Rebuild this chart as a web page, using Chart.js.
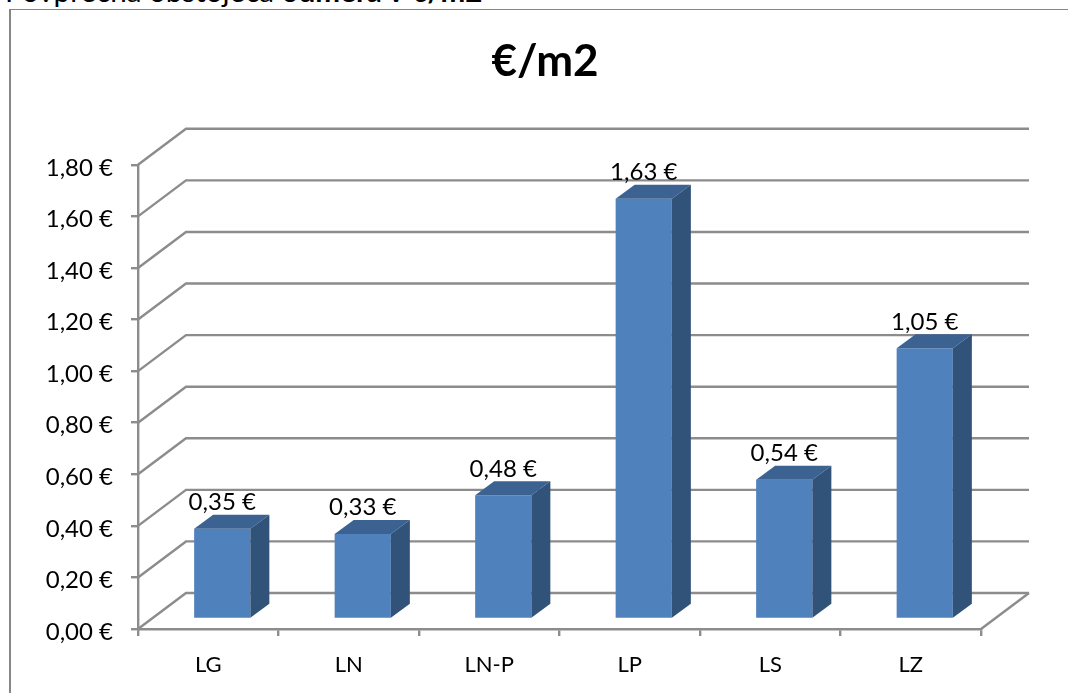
<!DOCTYPE html>
<html>
<head>
<meta charset="utf-8">
<script src="https://cdn.jsdelivr.net/npm/chart.js@4"></script>
<style>
html, body { margin: 0; padding: 0; background: #fff; overflow: hidden; }
#heading { position: absolute; left: 5px; top: -24px; font: 29.6px/30px Lato, sans-serif; color: #000; white-space: nowrap; }
#frame { position: absolute; left: 9px; top: 9px; width: 1100px; height: 720px; border-left: 2px solid #868686; border-top: 1px solid #868686; }
#wrap { position: absolute; left: 0; top: 0; width: 1068px; height: 693px; }
</style>
</head>
<body>
<div id="heading">Povprečna obstoječa <b>odmera v €/m2</b></div>
<div id="frame"></div>
<div id="wrap"><canvas id="priceChart"></canvas></div>
<script>
const categories = ['LG', 'LN', 'LN-P', 'LP', 'LS', 'LZ'];
const priceValues = [0.35, 0.33, 0.48, 1.63, 0.54, 1.05];

const GRID = '#8c8c8c';
const WALL_X = 48, WALL_Y = 36;    // depth of the back wall
const SHIFT_X = 14, SHIFT_Y = 10;  // bars stand a bit behind the front edge
const SIDE_X = 19, SIDE_Y = 14;    // depth of one bar

function euro(v) {
    return v.toFixed(2).replace('.', ',') + ' €';
}

// back wall and floor, drawn under the bars
const wallPlugin = {
    id: 'wall',
    afterLayout(chart) {
        // title is centred over the whole frame, not over the axis area
        chart.titleBlock.left = 109;
    },
    beforeDatasetsDraw(chart) {
        const { ctx, chartArea, scales } = chart;
        ctx.save();
        ctx.strokeStyle = GRID;
        ctx.lineWidth = 2.4;
        scales.y.ticks.forEach(function(t) {
            const y = scales.y.getPixelForValue(t.value);
            ctx.beginPath();
            ctx.moveTo(chartArea.left, y);
            ctx.lineTo(chartArea.left + WALL_X, y - WALL_Y);
            ctx.lineTo(chartArea.right + WALL_X, y - WALL_Y);
            ctx.stroke();
        });
        ctx.beginPath();
        ctx.moveTo(chartArea.right, chartArea.bottom);
        ctx.lineTo(chartArea.right + WALL_X, chartArea.bottom - WALL_Y);
        ctx.stroke();
        ctx.restore();
        // bars are translated, undone in afterDatasetsDraw
        ctx.save();
        ctx.translate(SHIFT_X, -SHIFT_Y);
    },
    afterDatasetsDraw(chart) {
        const { ctx } = chart;
        ctx.restore();
        ctx.save();
        ctx.translate(SHIFT_X, -SHIFT_Y);
        chart.getDatasetMeta(0).data.forEach(function(bar, i) {
            const left = bar.x - bar.width / 2;
            const right = bar.x + bar.width / 2;
            ctx.fillStyle = '#3c6291';
            ctx.beginPath();
            ctx.moveTo(left, bar.y);
            ctx.lineTo(left + SIDE_X, bar.y - SIDE_Y);
            ctx.lineTo(right + SIDE_X, bar.y - SIDE_Y);
            ctx.lineTo(right, bar.y);
            ctx.fill();
            ctx.fillStyle = '#315379';
            ctx.beginPath();
            ctx.moveTo(right, bar.y);
            ctx.lineTo(right + SIDE_X, bar.y - SIDE_Y);
            ctx.lineTo(right + SIDE_X, bar.base - SIDE_Y);
            ctx.lineTo(right, bar.base);
            ctx.fill();
            ctx.fillStyle = '#000';
            ctx.font = '24px Lato, sans-serif';
            ctx.textAlign = 'center';
            ctx.textBaseline = 'alphabetic';
            ctx.fillText(euro(priceValues[i]), bar.x, bar.y - 18.5);
        });
        ctx.restore();
    }
};

const ctx = document.getElementById('priceChart').getContext('2d');
const priceChart = new Chart(ctx, {
    type: 'bar',
    data: {
        labels: categories,
        datasets: [{
            data: priceValues,
            backgroundColor: '#4f81bd',
            borderWidth: 0,
            barPercentage: 0.4,
            categoryPercentage: 1
        }]
    },
    options: {
        responsive: true,
        maintainAspectRatio: false,
        animation: false,
        layout: { padding: { left: 0, right: 87, top: 0, bottom: 0 } },
        scales: {
            y: {
                min: 0,
                max: 1.8,
                afterFit(scale) { scale.width = 138; },
                ticks: {
                    stepSize: 0.2,
                    color: '#000',
                    padding: 18,
                    labelOffset: 3,
                    font: { family: 'Lato', size: 24 },
                    callback: function(v) { return euro(v); }
                },
                border: { color: GRID, width: 2.4 },
                grid: { drawOnChartArea: false, color: GRID, lineWidth: 2.4, tickLength: 7 }
            },
            x: {
                afterFit(scale) { scale.height = 64; },
                ticks: {
                    color: '#000',
                    padding: 16,
                    font: { family: 'Lato', size: 22 }
                },
                border: { color: GRID, width: 2.4 },
                grid: { drawOnChartArea: false, color: GRID, lineWidth: 2.4, tickLength: 7 }
            }
        },
        plugins: {
            legend: { display: false },
            tooltip: { enabled: false },
            title: {
                display: true,
                text: '€/m2',
                color: '#000',
                font: { family: 'Lato', size: 44, weight: 'bold' },
                padding: { top: 35, bottom: 77 }
            }
        }
    },
    plugins: [wallPlugin]
});
</script>
</body>
</html>
